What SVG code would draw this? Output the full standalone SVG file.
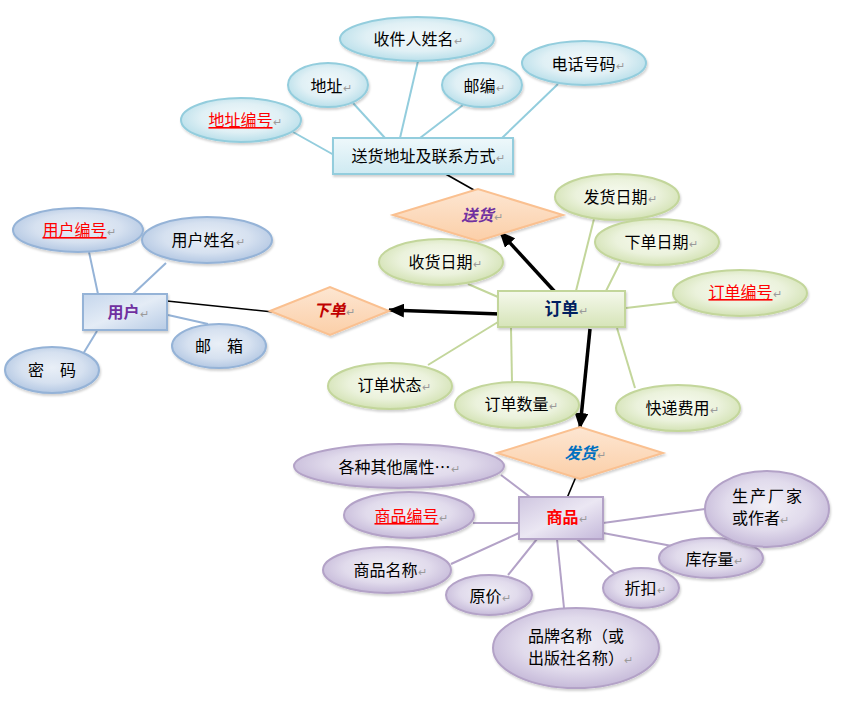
<svg xmlns="http://www.w3.org/2000/svg" width="849" height="701" viewBox="0 0 849 701">
<defs>
<radialGradient id="gBlue" cx="50%" cy="45%" r="55%"><stop offset="0" stop-color="#f2f9fb"/><stop offset="0.6" stop-color="#e0f0f5"/><stop offset="1" stop-color="#b9dfea"/></radialGradient>
<radialGradient id="gUser" cx="50%" cy="45%" r="55%"><stop offset="0" stop-color="#e9eff7"/><stop offset="0.6" stop-color="#d6e1f0"/><stop offset="1" stop-color="#b4c8e3"/></radialGradient>
<radialGradient id="gGreen" cx="50%" cy="45%" r="55%"><stop offset="0" stop-color="#f8fbf1"/><stop offset="0.6" stop-color="#ebf2dc"/><stop offset="1" stop-color="#d3e2b4"/></radialGradient>
<radialGradient id="gPurple" cx="50%" cy="45%" r="55%"><stop offset="0" stop-color="#f1eff6"/><stop offset="0.6" stop-color="#e1dbec"/><stop offset="1" stop-color="#c6bad9"/></radialGradient>
<linearGradient id="gDia" x1="0" y1="0" x2="0" y2="1"><stop offset="0" stop-color="#fde6d2"/><stop offset="1" stop-color="#fbcfa8"/></linearGradient>
<linearGradient id="gRectBlue" x1="0" y1="0" x2="0" y2="1"><stop offset="0" stop-color="#eef8fb"/><stop offset="1" stop-color="#cfeaf2"/></linearGradient>
<linearGradient id="gRectUser" x1="0" y1="0" x2="1" y2="1"><stop offset="0" stop-color="#c5d6ec"/><stop offset="0.5" stop-color="#e4ecf6"/><stop offset="1" stop-color="#b7cbe5"/></linearGradient>
<linearGradient id="gRectGreen" x1="0" y1="0" x2="0" y2="1"><stop offset="0" stop-color="#f5f9ec"/><stop offset="1" stop-color="#d6e4b8"/></linearGradient>
<linearGradient id="gRectPurple" x1="0" y1="0" x2="1" y2="1"><stop offset="0" stop-color="#cfc6e0"/><stop offset="0.5" stop-color="#ebe7f3"/><stop offset="1" stop-color="#c4b8da"/></linearGradient>
<filter id="sh" x="-20%" y="-20%" width="140%" height="150%"><feDropShadow dx="1" dy="2" stdDeviation="1.2" flood-color="#000" flood-opacity="0.18"/></filter>
<marker id="arr" markerUnits="userSpaceOnUse" markerWidth="16" markerHeight="14" refX="15" refY="7" orient="auto"><path d="M0,0 L16,7 L0,14 Z" fill="#000"/></marker>
<style>
text{font-family:"Noto Sans CJK SC","Liberation Sans",sans-serif;font-size:16px;fill:#000;}
.m{text-anchor:middle;}
.r{font-size:11px;fill:#9a9a9a;font-weight:normal;font-style:normal;text-decoration:none;}
.key{fill:#ff0000;text-decoration:underline;}
.eb{fill:url(#gBlue);stroke:#93cddd;stroke-width:2;filter:url(#sh);}
.eu{fill:url(#gUser);stroke:#95b3d7;stroke-width:2;filter:url(#sh);}
.eg{fill:url(#gGreen);stroke:#c3d69b;stroke-width:2;filter:url(#sh);}
.ep{fill:url(#gPurple);stroke:#b3a2c7;stroke-width:2;filter:url(#sh);}
.dia{fill:url(#gDia);stroke:#fac090;stroke-width:2;filter:url(#sh);}
.lb{stroke:#93cddd;stroke-width:2;}
.lu{stroke:#95b3d7;stroke-width:2;}
.lg{stroke:#c3d69b;stroke-width:2;}
.lp{stroke:#b3a2c7;stroke-width:2;}
.lk{stroke:#000;stroke-width:1.6;}
.la{stroke:#000;stroke-width:3.5;marker-end:url(#arr);}
.b{font-weight:bold;}
.it{font-weight:bold;font-style:italic;}
</style>
</defs>
<rect width="849" height="701" fill="#fff"/>
<g id="connectors" fill="none">
<line class="lb" x1="293" y1="132" x2="334" y2="155"/>
<line class="lb" x1="353" y1="103" x2="385" y2="138"/>
<line class="lb" x1="418" y1="61" x2="400" y2="138"/>
<line class="lb" x1="463" y1="105" x2="420" y2="138"/>
<line class="lb" x1="558" y1="84" x2="502" y2="138"/>
<line class="lk" x1="435" y1="168" x2="481" y2="194"/>
<line class="lu" x1="89" y1="252" x2="98" y2="294"/>
<line class="lu" x1="166" y1="263" x2="133" y2="294"/>
<line class="lu" x1="168" y1="315" x2="208" y2="324"/>
<line class="lu" x1="97" y1="331" x2="83" y2="354"/>
<line class="lk" x1="167" y1="301" x2="273" y2="312"/>
<line class="lg" x1="594" y1="219" x2="576" y2="291"/>
<line class="lg" x1="620" y1="263" x2="606" y2="291"/>
<line class="lg" x1="468" y1="284" x2="498" y2="297"/>
<line class="lg" x1="677" y1="302" x2="626" y2="308"/>
<line class="lg" x1="428" y1="365" x2="498" y2="322"/>
<line class="lg" x1="511" y1="328" x2="512" y2="382"/>
<line class="lg" x1="617" y1="328" x2="635" y2="388"/>
<line class="la" x1="500" y1="314" x2="389" y2="310"/>
<line class="la" x1="555" y1="292" x2="500" y2="232"/>
<line class="la" x1="590" y1="329" x2="580" y2="428"/>
<line class="lk" x1="578" y1="472" x2="567" y2="498"/>
<line class="lp" x1="501" y1="475" x2="530" y2="497"/>
<line class="lp" x1="473" y1="523" x2="519" y2="523"/>
<line class="lp" x1="451" y1="564" x2="519" y2="533"/>
<line class="lp" x1="508" y1="575" x2="537" y2="539"/>
<line class="lp" x1="557" y1="539" x2="564" y2="608"/>
<line class="lp" x1="577" y1="539" x2="615" y2="574"/>
<line class="lp" x1="603" y1="533" x2="672" y2="546"/>
<line class="lp" x1="603" y1="523" x2="705" y2="509"/>
</g>
<g id="n-shouhuoren"><ellipse class="eb" cx="417" cy="39" rx="77" ry="22"/><text class="m" x="418" y="45">收件人姓名<tspan class="r">↵</tspan></text></g>
<g id="n-dizhi"><ellipse class="eb" cx="328" cy="85" rx="40" ry="22"/><text class="m" x="331" y="92">地址<tspan class="r">↵</tspan></text></g>
<g id="n-youbian"><ellipse class="eb" cx="482" cy="85" rx="40" ry="22"/><text class="m" x="484" y="92">邮编<tspan class="r">↵</tspan></text></g>
<g id="n-dianhua"><ellipse class="eb" cx="584" cy="63" rx="62" ry="22"/><text class="m" x="588" y="70">电话号码<tspan class="r">↵</tspan></text></g>
<g id="n-dizhibianhao"><ellipse class="eb" cx="241" cy="120" rx="60" ry="22"/><text class="m" x="245" y="126"><tspan class="key">地址编号</tspan><tspan class="r">↵</tspan></text></g>
<g id="n-songhuodizhi"><rect x="333" y="138" width="180" height="36" fill="url(#gRectBlue)" stroke="#93cddd" stroke-width="2" filter="url(#sh)"/><text class="m" x="428" y="162">送货地址及联系方式<tspan class="r">↵</tspan></text></g>
<g id="n-songhuo"><polygon class="dia" points="393,215 478,189 563,215 478,241"/><text class="m it" x="482" y="221" style="fill:#7030a0">送货<tspan class="r">↵</tspan></text></g>
<g id="n-yonghubianhao"><ellipse class="eu" cx="78" cy="230" rx="65" ry="22"/><text class="m" x="79" y="236"><tspan class="key">用户编号</tspan><tspan class="r">↵</tspan></text></g>
<g id="n-yonghuxingming"><ellipse class="eu" cx="207" cy="240" rx="65" ry="23"/><text class="m" x="208" y="246">用户姓名<tspan class="r">↵</tspan></text></g>
<g id="n-yonghu"><rect x="83" y="294" width="84" height="36" fill="url(#gRectUser)" stroke="#95b3d7" stroke-width="2" filter="url(#sh)"/><text class="m b" x="128" y="318" style="fill:#7030a0">用户<tspan class="r">↵</tspan></text></g>
<g id="n-youxiang"><ellipse class="eu" cx="219" cy="346" rx="47" ry="22"/><text class="m" x="219" y="352">邮　箱</text></g>
<g id="n-mima"><ellipse class="eu" cx="52" cy="370" rx="47" ry="23"/><text class="m" x="52" y="376">密　码</text></g>
<g id="n-xiadan"><polygon class="dia" points="270,311 330,287 389,311 330,335"/><text class="m it" x="334" y="316" style="fill:#c00000">下单<tspan class="r">↵</tspan></text></g>
<g id="n-fahuoriqi"><ellipse class="eg" cx="617" cy="197" rx="62" ry="23"/><text class="m" x="620" y="203">发货日期<tspan class="r">↵</tspan></text></g>
<g id="n-xiadanriqi"><ellipse class="eg" cx="657" cy="242" rx="62" ry="23"/><text class="m" x="661" y="248">下单日期<tspan class="r">↵</tspan></text></g>
<g id="n-shouhuoriqi"><ellipse class="eg" cx="441" cy="262" rx="62" ry="23"/><text class="m" x="445" y="268">收货日期<tspan class="r">↵</tspan></text></g>
<g id="n-dingdanbianhao"><ellipse class="eg" cx="740" cy="293" rx="67" ry="23"/><text class="m" x="745" y="298"><tspan class="key">订单编号</tspan><tspan class="r">↵</tspan></text></g>
<g id="n-dingdan"><rect x="498" y="291" width="127" height="36" fill="url(#gRectGreen)" stroke="#c3d69b" stroke-width="2" filter="url(#sh)"/><text class="m b" x="566" y="315" style="fill:#002060;font-size:17px">订单<tspan class="r">↵</tspan></text></g>
<g id="n-dingdanzhuangtai"><ellipse class="eg" cx="390" cy="386" rx="62" ry="23"/><text class="m" x="394" y="391">订单状态<tspan class="r">↵</tspan></text></g>
<g id="n-dingdanshuliang"><ellipse class="eg" cx="517" cy="405" rx="62" ry="23"/><text class="m" x="521" y="410">订单数量<tspan class="r">↵</tspan></text></g>
<g id="n-kuaidifeiyong"><ellipse class="eg" cx="678" cy="408" rx="62" ry="23"/><text class="m" x="682" y="414">快递费用<tspan class="r">↵</tspan></text></g>
<g id="n-fahuo"><polygon class="dia" points="497,453 580,427 663,453 580,479"/><text class="m it" x="585" y="459" style="fill:#0070c0">发货<tspan class="r">↵</tspan></text></g>
<g id="n-qita"><ellipse class="ep" cx="399" cy="466" rx="105" ry="22"/><text class="m" x="399" y="473">各种其他属性…<tspan class="r">↵</tspan></text></g>
<g id="n-shangpinbianhao"><ellipse class="ep" cx="409" cy="515" rx="65" ry="23"/><text class="m" x="411" y="522"><tspan class="key">商品编号</tspan><tspan class="r">↵</tspan></text></g>
<g id="n-shangpin"><rect x="519" y="497" width="84" height="42" fill="url(#gRectPurple)" stroke="#b3a2c7" stroke-width="2" filter="url(#sh)"/><text class="m b" x="567" y="523" style="fill:#ff0000">商品<tspan class="r">↵</tspan></text></g>
<g id="n-shangpinmingcheng"><ellipse class="ep" cx="387" cy="570" rx="64" ry="23"/><text class="m" x="390" y="576">商品名称<tspan class="r">↵</tspan></text></g>
<g id="n-yuanjia"><ellipse class="ep" cx="489" cy="595" rx="43" ry="20"/><text class="m" x="490" y="602">原价<tspan class="r">↵</tspan></text></g>
<g id="n-pinpai"><ellipse class="ep" cx="576" cy="648" rx="83" ry="40"/><text x="528" y="642">品牌名称（或</text><text x="528" y="664">出版社名称）<tspan class="r">↵</tspan></text></g>
<g id="n-zhekou"><ellipse class="ep" cx="641" cy="588" rx="38" ry="20"/><text class="m" x="645" y="594">折扣<tspan class="r">↵</tspan></text></g>
<g id="n-kucunliang"><ellipse class="ep" cx="711" cy="558" rx="52" ry="20"/><text class="m" x="714" y="565">库存量<tspan class="r">↵</tspan></text></g>
<g id="n-shengchan"><ellipse class="ep" cx="767" cy="509" rx="62" ry="38"/><text x="732" y="502" style="letter-spacing:2px">生产厂家</text><text x="732" y="524">或作者<tspan class="r">↵</tspan></text></g>
</svg>
